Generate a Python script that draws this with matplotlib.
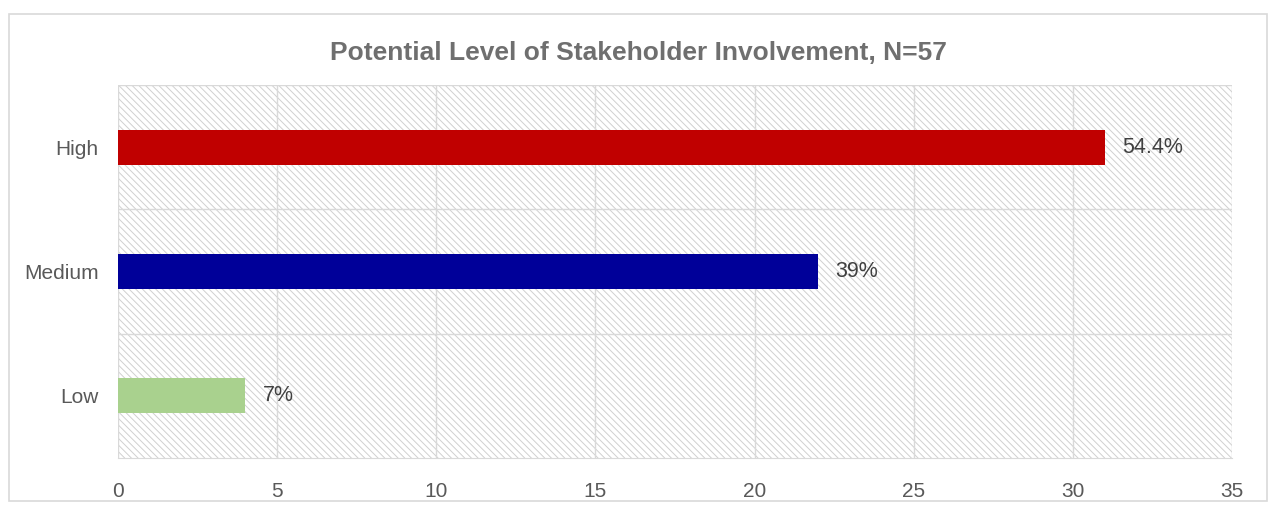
import matplotlib.pyplot as plt
from matplotlib.patches import Rectangle

categories = ['Low', 'Medium', 'High']
counts = [4, 22, 31]
labels = ['7%', '39%', '54.4%']
colors = ['#A9D18E', '#000099', '#C00000']
x_ticks = [0, 5, 10, 15, 20, 25, 30, 35]

plt.rcParams['font.family'] = ['Liberation Sans', 'DejaVu Sans']
plt.rcParams['hatch.linewidth'] = 0.7
plt.rcParams['hatch.color'] = '#d0d0d0'

fig = plt.figure(figsize=(12.72, 5.12), dpi=100)
# chart border
fig.patches.append(Rectangle((9 / 1272, 11 / 512), 1258 / 1272, 487 / 512, transform=fig.transFigure,
                             fill=False, edgecolor='#d9d9d9', linewidth=1.2))

ax = fig.add_axes([118 / 1272, 54 / 512, 1114 / 1272, 373 / 512])
ax.add_patch(Rectangle((0, 0), 1, 1, transform=ax.transAxes, facecolor='white',
                       hatch='\\\\\\\\\\', edgecolor='#d0d0d0', linewidth=0, zorder=0))

ypos = range(len(categories))
ax.barh(ypos, counts, height=0.28, color=colors, zorder=3)
for y, c, lab in zip(ypos, counts, labels):
    ax.text(c + 0.55, y, lab, va='center', ha='left', fontsize=15.5, color='#404040', zorder=4)

ax.set_xlim(0, 35)
ax.set_ylim(-0.5, 2.5)
ax.set_xticks(x_ticks)
ax.set_yticks(list(ypos))
ax.set_yticklabels(categories)
for x in x_ticks:
    ax.axvline(x, color='#d9d9d9', linewidth=1, zorder=1)
for y in [0.5, 1.5, 2.5]:
    ax.axhline(y, color='#d9d9d9', linewidth=1, zorder=1)

for s in ['top', 'right', 'left']:
    ax.spines[s].set_visible(False)
ax.spines['bottom'].set_color('#d9d9d9')
ax.tick_params(length=0, labelsize=15, colors='#595959')
ax.tick_params(axis='x', pad=17)
ax.tick_params(axis='y', pad=14)

fig.text(638 / 1272, 1 - 53 / 512, 'Potential Level of Stakeholder Involvement, N=57',
         ha='center', va='center', fontsize=19, fontweight='bold', color='#6f6f6f')

plt.savefig('out.png', dpi=100)
